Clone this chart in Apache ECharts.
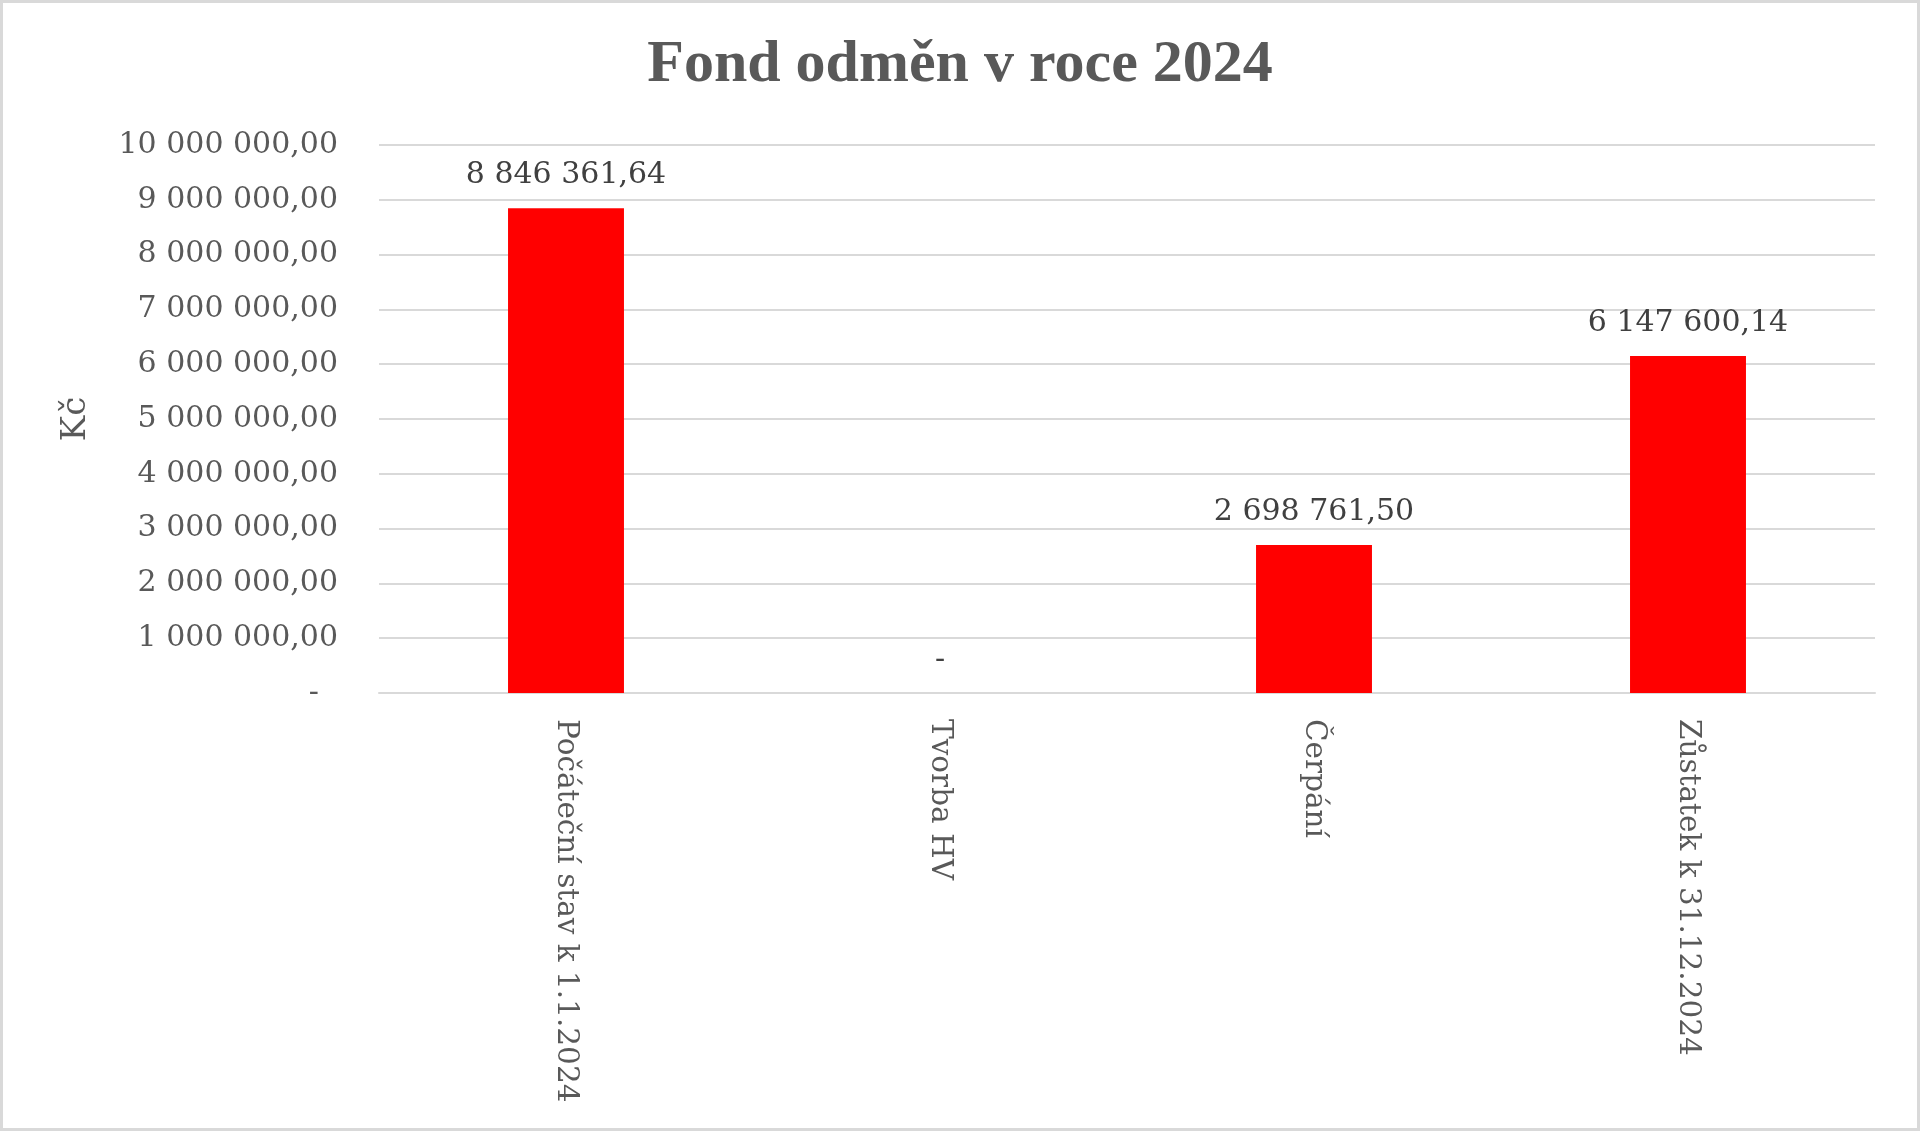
<!DOCTYPE html>
<html>
<head>
<meta charset="utf-8">
<script src="https://cdn.jsdelivr.net/npm/echarts@6/dist/echarts.min.js"></script>
<style>
html,body{margin:0;padding:0;background:#fff;}
#wrap{position:relative;width:1920px;height:1131px;}
#c{position:absolute;left:0;top:0;width:1920px;height:1131px;}
#frame{position:absolute;left:0;top:0;width:1920px;height:1131px;box-sizing:border-box;border:3px solid #d9d9d9;pointer-events:none;}
</style>
</head>
<body>
<div id="wrap"><div id="c"></div><div id="frame"></div></div>
<script>
const title = 'Fond odměn v roce 2024';
const categories = ['Počáteční stav k 1.1.2024', 'Tvorba HV', 'Čerpání', 'Zůstatek k 31.12.2024'];
const values = [8846361.64, 0, 2698761.50, 6147600.14];
const yAxisName = 'Kč';
const yMin = 0, yMax = 10000000, yStep = 1000000;

function fmt(v) {
  if (v === 0) return '-';
  const parts = v.toFixed(2).split('.');
  const int = parts[0].replace(/\B(?=(\d{3})+(?!\d))/g, ' ');
  return int + ',' + parts[1];
}

const chart = echarts.init(document.getElementById('c'), null, {renderer: 'canvas'});
chart.setOption({
  backgroundColor: '#fff',
  animation: false,
  title: {
    text: title,
    left: 'center',
    top: 30,
    textStyle: {fontFamily: 'Liberation Serif', fontWeight: 'bold', fontSize: 60, color: '#595959'}
  },
  grid: {left: 379, right: 45, top: 145, bottom: 438, containLabel: false},
  xAxis: {
    type: 'category',
    data: categories,
    axisLine: {lineStyle: {color: '#d9d9d9', width: 2}},
    axisTick: {show: false},
    axisLabel: {
      rotate: -90,
      margin: 26,
      interval: 0,
      fontFamily: 'DejaVu Serif',
      fontSize: 29.5,
      color: '#595959'
    }
  },
  yAxis: {
    type: 'value',
    min: yMin, max: yMax, interval: yStep,
    name: yAxisName,
    nameLocation: 'middle',
    nameRotate: 90,
    nameGap: 286,
    nameTextStyle: {fontFamily: 'DejaVu Serif', fontSize: 34, color: '#595959'},
    axisLine: {show: false},
    axisTick: {show: false},
    splitLine: {lineStyle: {color: '#d9d9d9', width: 2}},
    axisLabel: {
      margin: 41,
      fontFamily: 'DejaVu Serif',
      fontSize: 30,
      color: '#595959',
      formatter: function (v) { return v === 0 ? '-  ' : fmt(v); }
    }
  },
  series: [{
    type: 'bar',
    data: values,
    barWidth: '31%',
    itemStyle: {color: '#ff0000'},
    label: {
      show: true,
      position: 'top',
      distance: 18,
      fontFamily: 'DejaVu Serif',
      fontSize: 30,
      color: '#404040',
      formatter: function (p) { return fmt(p.value); }
    }
  }]
});
</script>
</body>
</html>
